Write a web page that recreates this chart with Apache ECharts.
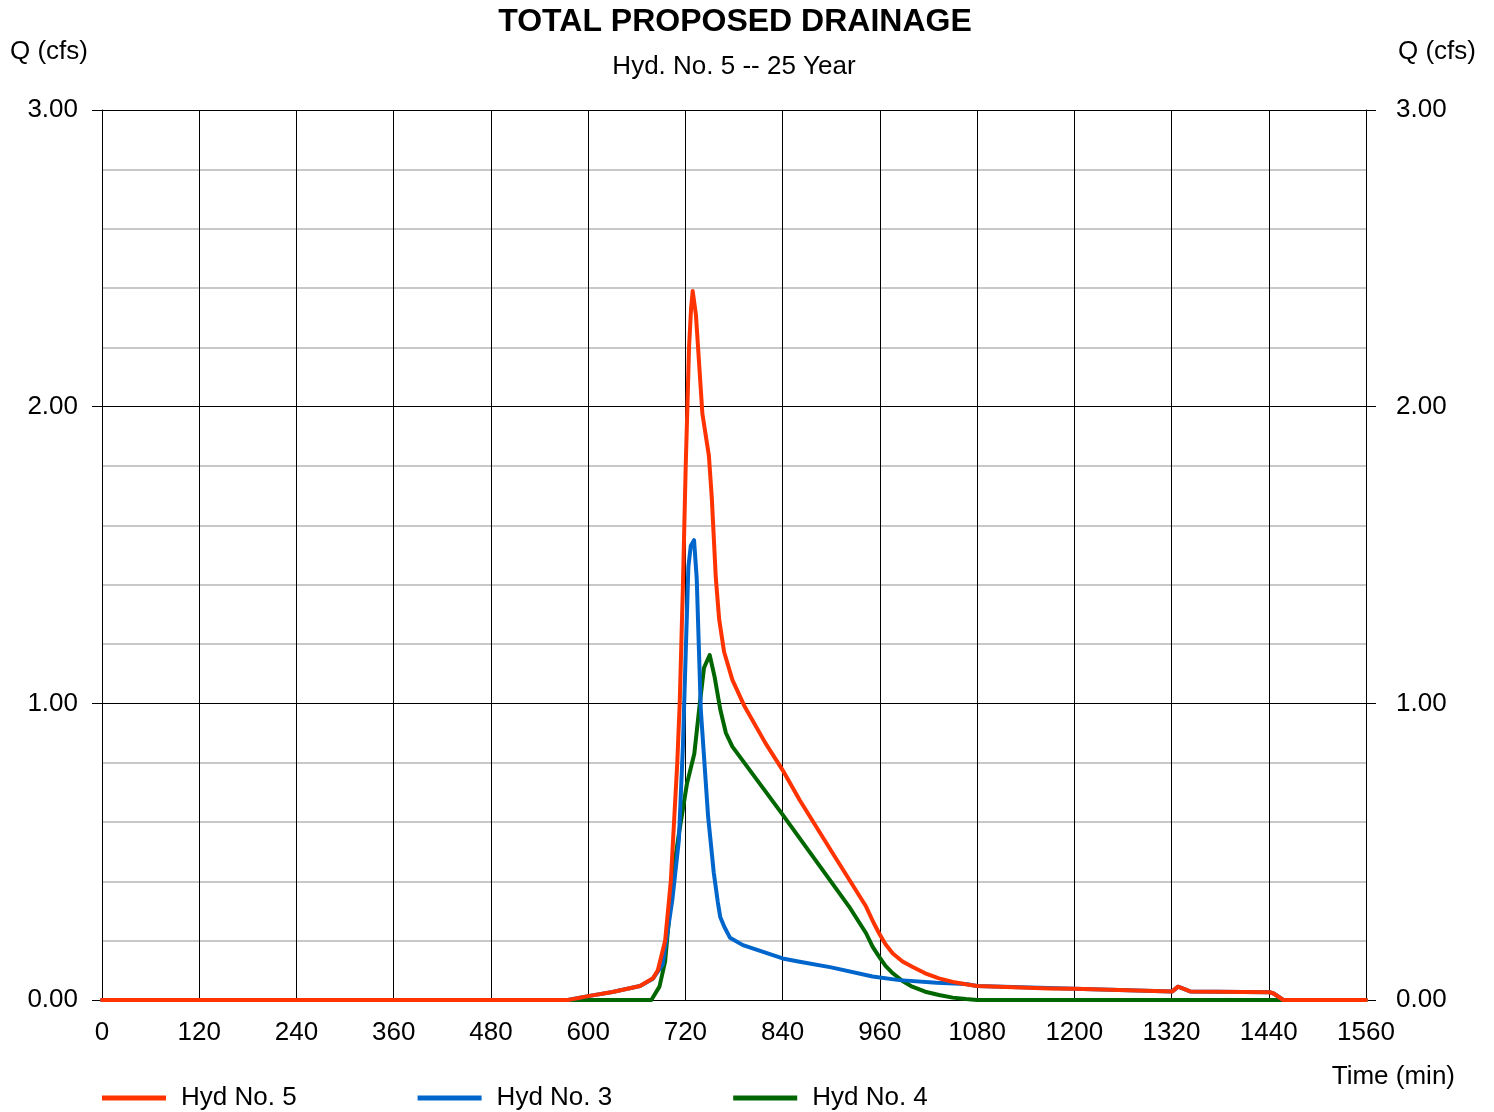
<!DOCTYPE html>
<html><head><meta charset="utf-8">
<script src="https://cdn.jsdelivr.net/npm/echarts@6/dist/echarts.min.js"></script>
<style>html,body{margin:0;padding:0;background:#fff}#c{width:1494px;height:1112px}</style>
</head><body><div id="c"></div><script>
// ---- data (minutes, cfs) ----
var hyd5Time = [0, 575, 600, 630, 664, 680, 686, 695, 702, 706, 710, 713, 717, 720.4, 722.5, 724.5, 727, 729, 733, 741, 749, 752.6, 757.5, 761.7, 767.8, 778, 792.6, 819, 840, 861, 902, 943, 952, 959, 967, 976, 988, 1000, 1016, 1033, 1050, 1066, 1080, 1169, 1200, 1321, 1328, 1343, 1441, 1446, 1458, 1560];
var hyd5Flow = [0, 0, 0.013, 0.027, 0.047, 0.073, 0.10, 0.20, 0.40, 0.60, 0.80, 1.00, 1.40, 1.80, 2.00, 2.20, 2.33, 2.39, 2.31, 1.976, 1.835, 1.693, 1.425, 1.283, 1.173, 1.079, 0.992, 0.865, 0.775, 0.674, 0.494, 0.315, 0.262, 0.225, 0.188, 0.157, 0.13, 0.112, 0.09, 0.073, 0.061, 0.053, 0.047, 0.039, 0.038, 0.029, 0.045, 0.029, 0.026, 0.022, 0, 0];

var hyd3Time = [0, 575, 600, 630, 664, 680, 692, 704, 712, 717, 720.4, 723.7, 726.6, 730.7, 734, 736.5, 739, 742, 748, 755, 760, 763, 768, 775, 791, 840, 861, 900, 951, 984, 1030, 1066, 1080, 1200, 1321, 1328, 1343, 1441, 1446, 1458, 1560];
var hyd3Flow = [0, 0, 0.013, 0.027, 0.047, 0.072, 0.12, 0.34, 0.54, 0.86, 1.17, 1.46, 1.53, 1.55, 1.42, 1.20, 0.98, 0.86, 0.62, 0.43, 0.33, 0.28, 0.247, 0.21, 0.185, 0.14, 0.129, 0.11, 0.079, 0.067, 0.058, 0.054, 0.047, 0.038, 0.029, 0.045, 0.029, 0.026, 0.022, 0, 0];

var hyd4Time = [0, 678, 688, 695, 700, 706, 712, 722, 731, 737, 743, 750, 756, 763, 770, 778, 840, 881, 922, 943, 951, 959, 967, 976, 988, 1000, 1016, 1033, 1050, 1066, 1080, 1560];
var hyd4Flow = [0, 0, 0.045, 0.13, 0.28, 0.45, 0.56, 0.73, 0.83, 0.98, 1.12, 1.163, 1.09, 0.98, 0.90, 0.854, 0.625, 0.47, 0.315, 0.225, 0.18, 0.146, 0.115, 0.09, 0.064, 0.045, 0.028, 0.017, 0.008, 0.003, 0, 0];

var seriesNames = ['Hyd No. 5', 'Hyd No. 3', 'Hyd No. 4'];
var seriesColors = ['#ff3300', '#0066cc', '#006600'];
var xTicks = {min: 0, max: 1560, step: 120};
var yTicks = {min: 0, max: 3, step: 1};

function pairs(t, v) { return t.map(function (x, i) { return [x, v[i]]; }); }

var FONT = "'Liberation Sans', Arial, sans-serif";
var chart = echarts.init(document.getElementById('c'), null, {renderer: 'canvas'});

function yAxis(pos, margin, showSplit) {
  return {
    type: 'value', position: pos, min: yTicks.min, max: yTicks.max, interval: yTicks.step,
    axisLine: {show: true, lineStyle: {color: '#000', width: 1}},
    axisTick: {show: true, length: 10, lineStyle: {color: '#000', width: 1}},
    axisLabel: {margin: margin, color: '#000', fontSize: 26, fontFamily: FONT, padding: [4, 0, 0, 0],
      formatter: function (v) { return v.toFixed(2); }},
    splitLine: {show: showSplit, lineStyle: {color: '#000', width: 1}},
    minorTick: {show: showSplit, splitNumber: 5, length: 0},
    minorSplitLine: {show: showSplit, lineStyle: {color: '#c8c8c8', width: 2}}
  };
}

function lineSeries(i, t, v, z) {
  return {name: seriesNames[i], type: 'line', data: pairs(t, v), z: z, showSymbol: false, symbol: 'none',
    smooth: false, lineStyle: {color: seriesColors[i], width: 4, join: 'round', cap: 'round'},
    itemStyle: {color: seriesColors[i]}};
}

var option = {
  backgroundColor: '#fff',
  animation: false,
  grid: {left: 102, right: 128, top: 110, bottom: 112, containLabel: false},
  xAxis: {
    type: 'value', min: xTicks.min, max: xTicks.max, interval: xTicks.step,
    axisLine: {show: true, lineStyle: {color: '#000', width: 1}},
    axisTick: {show: false},
    axisLabel: {margin: 20, color: '#000', fontSize: 26, fontFamily: FONT,
      formatter: function (v) { return String(v); }},
    splitLine: {show: true, lineStyle: {color: '#000', width: 1}}
  },
  yAxis: [yAxis('left', 24, true), yAxis('right', 30, false)],
  legend: {
    left: 102, top: 1085, padding: 0, itemWidth: 64, itemHeight: 5, itemGap: 121, icon: 'rect',
    data: seriesNames,
    textStyle: {color: '#000', fontSize: 26, fontFamily: FONT, padding: [0, 0, 0, 10]}
  },
  graphic: [
    {type: 'text', x: 735, y: 22, style: {text: 'TOTAL PROPOSED DRAINAGE', fill: '#000', font: 'bold 32px ' + FONT, textAlign: 'center', textVerticalAlign: 'middle'}},
    {type: 'text', x: 734, y: 67, style: {text: 'Hyd. No. 5 -- 25 Year', fill: '#000', font: '26px ' + FONT, textAlign: 'center', textVerticalAlign: 'middle'}},
    {type: 'text', x: 10, y: 52, style: {text: 'Q (cfs)', fill: '#000', font: '26px ' + FONT, textAlign: 'left', textVerticalAlign: 'middle'}},
    {type: 'text', x: 1476, y: 52, style: {text: 'Q (cfs)', fill: '#000', font: '26px ' + FONT, textAlign: 'right', textVerticalAlign: 'middle'}},
    {type: 'text', x: 1455, y: 1077, style: {text: 'Time (min)', fill: '#000', font: '26px ' + FONT, textAlign: 'right', textVerticalAlign: 'middle'}}
  ],
  series: [
    lineSeries(0, hyd5Time, hyd5Flow, 5),
    lineSeries(1, hyd3Time, hyd3Flow, 4),
    lineSeries(2, hyd4Time, hyd4Flow, 3)
  ]
};
chart.setOption(option);
</script></body></html>
